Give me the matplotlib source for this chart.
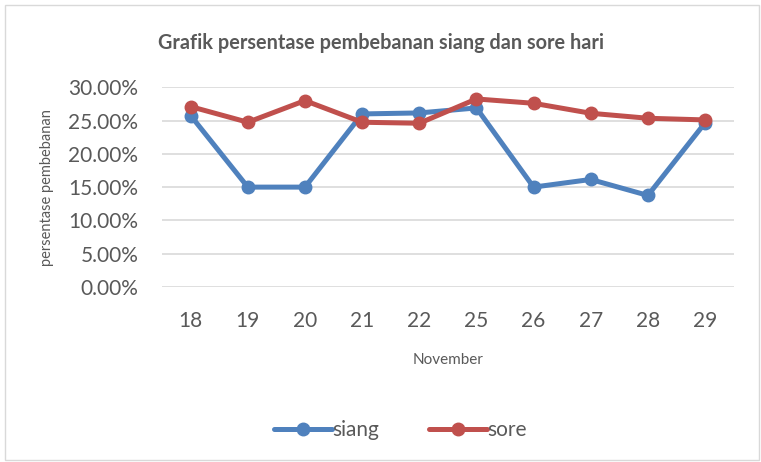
import matplotlib.pyplot as plt
from matplotlib.patches import Rectangle
from matplotlib.ticker import PercentFormatter

plt.rcParams['font.family'] = ['Lato', 'DejaVu Sans']

days = ['18', '19', '20', '21', '22', '25', '26', '27', '28', '29']
siang = [0.2575, 0.150, 0.150, 0.260, 0.2615, 0.269, 0.150, 0.1615, 0.1375, 0.2465]
sore = [0.271, 0.2475, 0.280, 0.2475, 0.246, 0.2825, 0.276, 0.261, 0.2535, 0.251]

BLUE = '#4F81BD'
RED = '#C0504D'
TEXT = '#595959'

fig = plt.figure(figsize=(7.61, 4.62), dpi=100)
fig.patches.append(Rectangle((0.007, 0.004), 0.99, 0.985, transform=fig.transFigure,
                             fill=False, edgecolor='#D9D9D9', lw=1))

ax = fig.add_axes([0.213, 0.379, 0.751, 0.432])
x = range(len(days))
ax.plot(x, siang, color=BLUE, lw=3.6, marker='o', ms=9, label='siang',
        solid_capstyle='round', zorder=3)
ax.plot(x, sore, color=RED, lw=3.6, marker='o', ms=9, label='sore',
        solid_capstyle='round', zorder=4)

ax.set_xlim(-0.5, len(days) - 0.5)
ax.set_ylim(0, 0.30)
ax.set_yticks([0, 0.05, 0.10, 0.15, 0.20, 0.25, 0.30])
ax.yaxis.set_major_formatter(PercentFormatter(1.0, decimals=2))
ax.set_xticks(list(x))
ax.set_xticklabels(days)
ax.grid(axis='y', color='#D9D9D9', lw=1.2)
ax.set_axisbelow(True)
for s in ax.spines.values():
    s.set_visible(False)
ax.tick_params(length=0, labelsize=15, colors=TEXT)
ax.tick_params(axis='x', pad=17)
ax.tick_params(axis='y', pad=17)

ax.set_xlabel('November', fontsize=11, color=TEXT)
ax.xaxis.set_label_coords(0.5, -0.33)
ax.set_ylabel('persentase pembebanan', fontsize=10.5, color=TEXT)
ax.yaxis.set_label_coords(-0.19, 0.5)
fig.text(0.5, 0.906, 'Grafik persentase pembebanan siang dan sore hari',
         ha='center', va='center', fontsize=14.3, fontweight='bold', color=TEXT)

fig.legend(loc='center', bbox_to_anchor=(0.526, 0.069), ncol=2, frameon=False,
           fontsize=15, labelcolor=TEXT, handlelength=2.8, handletextpad=0.0,
           columnspacing=2.4)

fig.savefig('out.png', dpi=100)
